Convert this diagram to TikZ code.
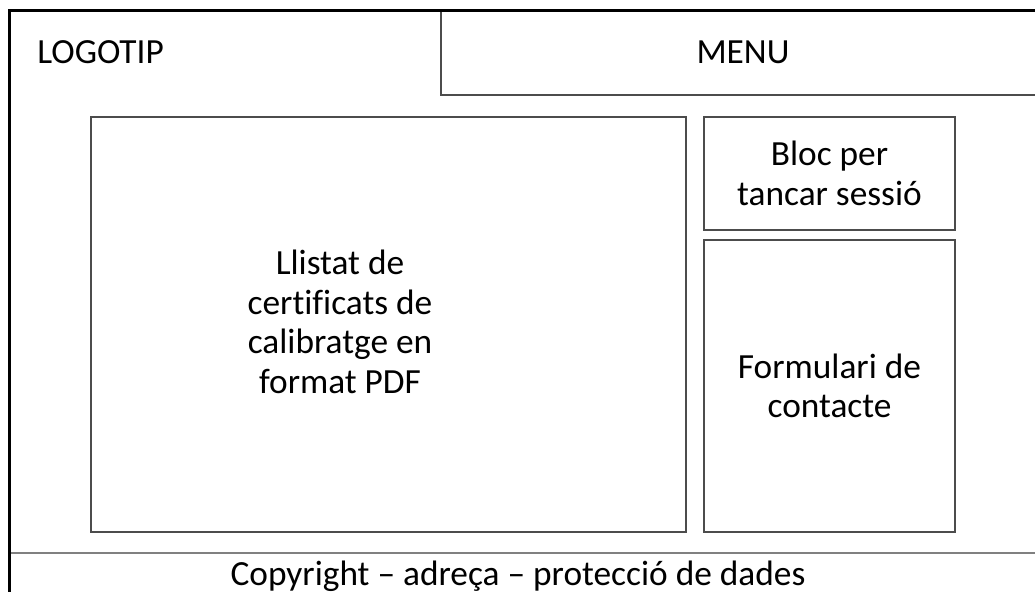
\documentclass[tikz,border=0pt]{standalone}
\usepackage{fontspec}
\setmainfont[Ligatures={NoCommon}]{Carlito}
\usetikzlibrary{shapes}

\begin{document}
\begin{tikzpicture}[x=0.75pt, y=-0.75pt, font=\fontsize{26.5}{29.6}\selectfont]
\tikzstyle{caixa}=[draw=black!70, line width=0.9pt, rectangle, align=center, inner sep=0pt]
\useasboundingbox (0,0) rectangle (1035,592);
\clip (0,0) rectangle (1035,592);

\node[caixa, minimum width=453pt, minimum height=63.75pt]    (M) at (743,52.5)   {MENU};
\node[caixa, minimum width=446.25pt, minimum height=311.25pt] (A) at (388.5,324.5) {};
\node[align=center, inner sep=0pt]                            (At) at (340,322)   {Llistat de\\certificats de\\calibratge en\\format PDF};
\node[caixa, minimum width=188.25pt, minimum height=84.75pt]  (B) at (829.5,173.5) {Bloc per\\tancar sessi\'o};
\node[caixa, minimum width=188.25pt, minimum height=219pt]    (F) at (829.5,386)   {Formulari de\\contacte};

\node[anchor=base west, inner sep=0pt]   (L) at (37,64)   {LOGOTIP};
\node[anchor=base, inner sep=0pt]        (C) at (518,585) {Copyright -- adre\c{c}a -- protecci\'o de dades};

\coordinate (P0) at (9.5,553);
\coordinate (P1) at (1040,553);
\draw[black!50, line width=1.5pt] (P0) -- (P1);

\coordinate (Q0) at (9.5,600);
\coordinate (Q1) at (9.5,10.5);
\coordinate (Q2) at (1040,10.5);
\draw[black, line width=2pt] (Q0) -- (Q1) -- (Q2);

\end{tikzpicture}
\end{document}
